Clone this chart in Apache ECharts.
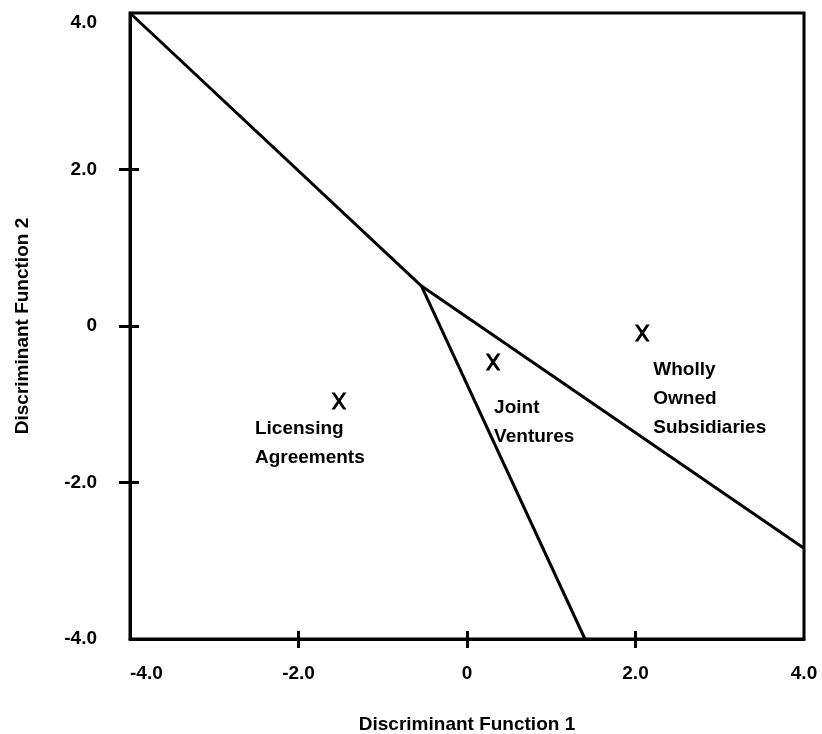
<!DOCTYPE html>
<html>
<head>
<meta charset="utf-8">
<script src="https://cdn.jsdelivr.net/npm/echarts@6/dist/echarts.min.js"></script>
<style>html,body{margin:0;padding:0;background:#fff}#c{width:822px;height:734px}</style>
</head>
<body>
<div id="c"></div>
<script>
// Axis ranges and ticks
const xMin = -4, xMax = 4, yMin = -4, yMax = 4;
const axisLabelValues = [-4, -2, 0, 2, 4];
const axisTickValues = [-2, 0, 2];
const xAxisName = 'Discriminant Function 1';
const yAxisName = 'Discriminant Function 2';

// Territorial boundaries (discriminant function space)
const boundaryUpper = [[-4.0, 4.0], [-0.54, 0.51], [4.0, -2.84]];
const boundaryLower = [[-0.54, 0.51], [1.40, -4.0]];

// Group centroids
const groupNames = ['Licensing\nAgreements', 'Joint\nVentures', 'Wholly\nOwned\nSubsidiaries'];
const centroidX = [-1.52, 0.31, 2.08];
const centroidY = [-0.96, -0.46, -0.09];

const FONT = '"Liberation Sans", Arial, Helvetica, sans-serif';
const labelOffsets = [[-84, 13], [1, 31], [11, 22]];

const fmt = v => (v === 0 ? '0' : v.toFixed(1));

const chart = echarts.init(document.getElementById('c'), null, {renderer: 'canvas'});

const tickStyle = {color: '#000', width: 3};
const labelFont = {fontFamily: FONT, fontWeight: 'bold', fontSize: 19, color: '#000'};

const option = {
  backgroundColor: '#fff',
  animation: false,
  grid: {left: 130, right: 18, top: 13, bottom: 95, show: true, borderColor: '#000', borderWidth: 3,
    containLabel: false, outerBoundsMode: 'none'},
  xAxis: [
    {
      type: 'value', min: xMin, max: xMax, position: 'bottom',
      splitLine: {show: false},
      name: xAxisName, nameLocation: 'middle', nameGap: 76,
      nameTextStyle: {fontFamily: FONT, fontWeight: 'bold', fontSize: 19, color: '#000'},
      axisLine: {show: true, onZero: false, lineStyle: {color: '#000', width: 3}},
      axisTick: {show: true, inside: false, length: 9, customValues: axisTickValues, lineStyle: tickStyle},
      axisLabel: Object.assign({show: true, customValues: axisLabelValues, formatter: fmt, margin: 25,
        alignMinLabel: 'left'}, labelFont)
    },
    {
      type: 'value', min: xMin, max: xMax, position: 'bottom',
      splitLine: {show: false},
      axisLine: {show: false, onZero: false},
      axisTick: {show: true, inside: true, length: 8, customValues: axisTickValues, lineStyle: tickStyle},
      axisLabel: {show: false}
    }
  ],
  yAxis: [
    {
      type: 'value', min: yMin, max: yMax, position: 'left',
      splitLine: {show: false},
      name: yAxisName, nameLocation: 'middle', nameGap: 98,
      nameTextStyle: {fontFamily: FONT, fontWeight: 'bold', fontSize: 19, color: '#000'},
      axisLine: {show: true, onZero: false, lineStyle: {color: '#000', width: 3}},
      axisTick: {show: true, inside: false, length: 11, customValues: axisTickValues, lineStyle: tickStyle},
      axisLabel: Object.assign({show: true, customValues: axisLabelValues, formatter: fmt, margin: 33,
        verticalAlignMaxLabel: 'top'}, labelFont)
    },
    {
      type: 'value', min: yMin, max: yMax, position: 'left',
      splitLine: {show: false},
      axisLine: {show: false, onZero: false},
      axisTick: {show: true, inside: true, length: 9, customValues: axisTickValues, lineStyle: tickStyle},
      axisLabel: {show: false}
    }
  ],
  series: [
    {
      type: 'line', data: boundaryUpper, symbol: 'none', silent: true,
      lineStyle: {color: '#000', width: 3}
    },
    {
      type: 'line', data: boundaryLower, symbol: 'none', silent: true,
      lineStyle: {color: '#000', width: 3}
    },
    {
      type: 'scatter',
      symbol: 'path://M0 0H3.6L8 6.4 12.4 0H16L9.9 9 16 18H12.4L8 11.6 3.6 18H0L6.1 9Z',
      symbolSize: [15, 17],
      itemStyle: {color: '#000', opacity: 1},
      data: groupNames.map((n, i) => ({
        value: [centroidX[i], centroidY[i]],
        label: {
          show: true, formatter: n, position: 'inside',
          offset: labelOffsets[i], align: 'left', verticalAlign: 'top',
          fontFamily: FONT, fontWeight: 'bold', fontSize: 19, lineHeight: 29, color: '#000', opacity: 1
        }
      }))
    }
  ]
};
chart.setOption(option);
</script>
</body>
</html>
